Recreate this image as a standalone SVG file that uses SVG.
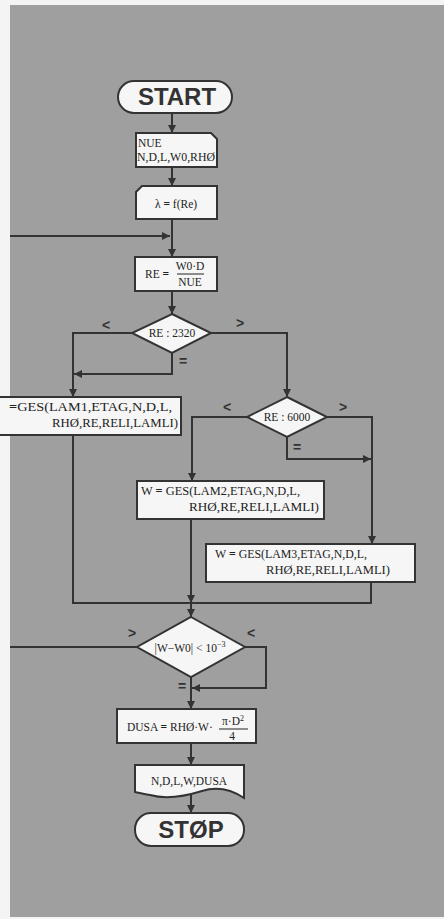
<svg xmlns="http://www.w3.org/2000/svg" width="444" height="919" viewBox="0 0 444 919">
<defs>
<marker id="ah" viewBox="0 0 10 10" refX="10" refY="5" markerWidth="8" markerHeight="8" markerUnits="userSpaceOnUse" orient="auto">
<path d="M0,0 L10,5 L0,10 Z" fill="#333"/>
</marker>
<style>
.bg{fill:#9f9f9f}
.box{fill:#f6f6f6;stroke:#333;stroke-width:2}
.ln{fill:none;stroke:#333;stroke-width:2}
.ar{fill:none;stroke:#333;stroke-width:2;marker-end:url(#ah)}
.t{font-family:"Liberation Serif","Times New Roman",serif;font-size:11.5px;fill:#222}
.tc{font-family:"Liberation Serif","Times New Roman",serif;font-size:11.5px;fill:#222;text-anchor:middle}
.big{font-family:"Liberation Sans",Arial,sans-serif;font-weight:bold;font-size:24px;fill:#333;text-anchor:middle}
.lab{font-family:"Liberation Sans",Arial,sans-serif;font-weight:bold;font-size:14px;fill:#333;text-anchor:middle}
.eq{font-weight:bold}
</style>
</defs>
<rect x="0" y="0" width="444" height="919" fill="#f4f4f4"/>
<rect class="bg" x="10" y="5" width="434" height="912"/>

<g id="connectors">
<line class="ar" x1="172" y1="113" x2="172" y2="133"/>
<line class="ar" x1="172" y1="167" x2="172" y2="186"/>
<line class="ln" x1="172" y1="219" x2="172" y2="236"/>
<line class="ar" x1="10" y1="236" x2="170" y2="236"/>
<line class="ar" x1="172" y1="236" x2="172" y2="257"/>
<line class="ar" x1="172" y1="291" x2="172" y2="314"/>
<polyline class="ln" points="132,333 73,333 73,374"/>
<line class="ar" x1="73" y1="374" x2="73" y2="397"/>
<polyline class="ar" points="172,353 172,374 74,374"/>
<polyline class="ar" points="211,333 287,333 287,397"/>
<polyline class="ar" points="247,417 192,417 192,481"/>
<polyline class="ar" points="327,417 372,417 372,544"/>
<polyline class="ar" points="287,437 287,459 371,459"/>
<polyline class="ln" points="73,435 73,603 371,603 371,582"/>
<line class="ar" x1="191" y1="519" x2="191" y2="603"/>
<line class="ar" x1="191" y1="603" x2="191" y2="617"/>
<line class="ln" x1="10" y1="647" x2="137" y2="647"/>
<polyline class="ar" points="245,647 266,647 266,688 192,688"/>
<line class="ar" x1="191" y1="677" x2="191" y2="709"/>
<line class="ar" x1="191" y1="743" x2="191" y2="765"/>
<line class="ar" x1="191" y1="795" x2="191" y2="813"/>
<text class="lab" x="106" y="330">&lt;</text>
<text class="lab" x="240" y="328">&gt;</text>
<text class="lab" x="183" y="366" font-size="9">=</text>
<text class="lab" x="227" y="412">&lt;</text>
<text class="lab" x="343" y="412">&gt;</text>
<text class="lab" x="297" y="452" font-size="12">=</text>
<text class="lab" x="132" y="638">&gt;</text>
<text class="lab" x="251" y="638">&lt;</text>
<text class="lab" x="182" y="691" font-size="12">=</text>
</g>

<g id="start">
<rect class="box" x="118" y="81" width="114" height="32" rx="16"/>
<text class="big" x="177" y="105">START</text>
</g>

<g id="input">
<path class="box" d="M136,133 H211 L217,139 V167 H136 Z"/>
<text class="t" x="138" y="147">NUE</text>
<text class="t" x="137" y="161" textLength="78" lengthAdjust="spacingAndGlyphs">N,D,L,W0,RHØ</text>
</g>

<g id="lambda">
<path class="box" d="M142,186 H217 V219 H136 V192 Z"/>
<text class="tc" x="176" y="208" font-size="12">λ <tspan class="eq">=</tspan> f(Re)</text>
</g>

<g id="re">
<rect class="box" x="135" y="257" width="82" height="34"/>
<text class="t" x="145" y="278" font-size="12">RE <tspan class="eq">=</tspan></text>
<text class="tc" x="190" y="270">W0·D</text>
<line x1="177" y1="274" x2="204" y2="274" stroke="#222" stroke-width="1"/>
<text class="tc" x="190" y="286">NUE</text>
</g>

<g id="dec1">
<polygon class="box" points="172,314 211,333 172,353 132,333"/>
<text class="tc" x="172" y="337" font-size="12">RE : 2320</text>
</g>

<g id="lam1">
<rect class="box" x="-20" y="397" width="201" height="38"/>
<text class="t" x="9" y="411" textLength="163" lengthAdjust="spacingAndGlyphs"><tspan class="eq">=</tspan>GES(LAM1,ETAG,N,D,L,</text>
<text class="t" x="52" y="427" textLength="126" lengthAdjust="spacingAndGlyphs">RHØ,RE,RELI,LAMLI)</text>
</g>

<g id="dec2">
<polygon class="box" points="287,397 327,417 287,437 247,417"/>
<text class="tc" x="287" y="421" font-size="12">RE : 6000</text>
</g>

<g id="lam2">
<rect class="box" x="137" y="481" width="187" height="38"/>
<text class="t" x="141" y="495" textLength="159" lengthAdjust="spacingAndGlyphs">W <tspan class="eq">=</tspan> GES(LAM2,ETAG,N,D,L,</text>
<text class="t" x="189" y="511" textLength="130" lengthAdjust="spacingAndGlyphs">RHØ,RE,RELI,LAMLI)</text>
</g>

<g id="lam3">
<rect class="box" x="206" y="544" width="209" height="38"/>
<text class="t" x="215" y="558" textLength="152" lengthAdjust="spacingAndGlyphs">W <tspan class="eq">=</tspan> GES(LAM3,ETAG,N,D,L,</text>
<text class="t" x="266" y="574" textLength="124" lengthAdjust="spacingAndGlyphs">RHØ,RE,RELI,LAMLI)</text>
</g>

<g id="dec3">
<polygon class="box" points="191,617 245,647 191,677 137,647"/>
<text class="tc" x="190" y="652" font-size="12">|W−W0| &lt; 10<tspan font-size="8" dy="-5">−3</tspan></text>
</g>

<g id="dusa">
<rect class="box" x="117" y="709" width="139" height="34"/>
<text class="t" x="127" y="731">DUSA <tspan class="eq">=</tspan> RHØ·W·</text>
<text class="tc" x="233" y="725" font-size="10.5">π·D<tspan font-size="8" dy="-4">2</tspan></text>
<line x1="219" y1="729" x2="248" y2="729" stroke="#222" stroke-width="1"/>
<text class="tc" x="232" y="740" font-size="10">4</text>
</g>

<g id="output">
<path class="box" d="M135,765 H244 V798 C232,790 218,786 202,791 C186,796 168,800 150,795 C144,794 140,793 135,792 Z"/>
<text class="tc" x="189" y="785">N,D,L,W,DUSA</text>
</g>

<g id="stop">
<rect class="box" x="135" y="813" width="109" height="33" rx="16"/>
<text class="big" x="191" y="838">STØP</text>
</g>
</svg>
